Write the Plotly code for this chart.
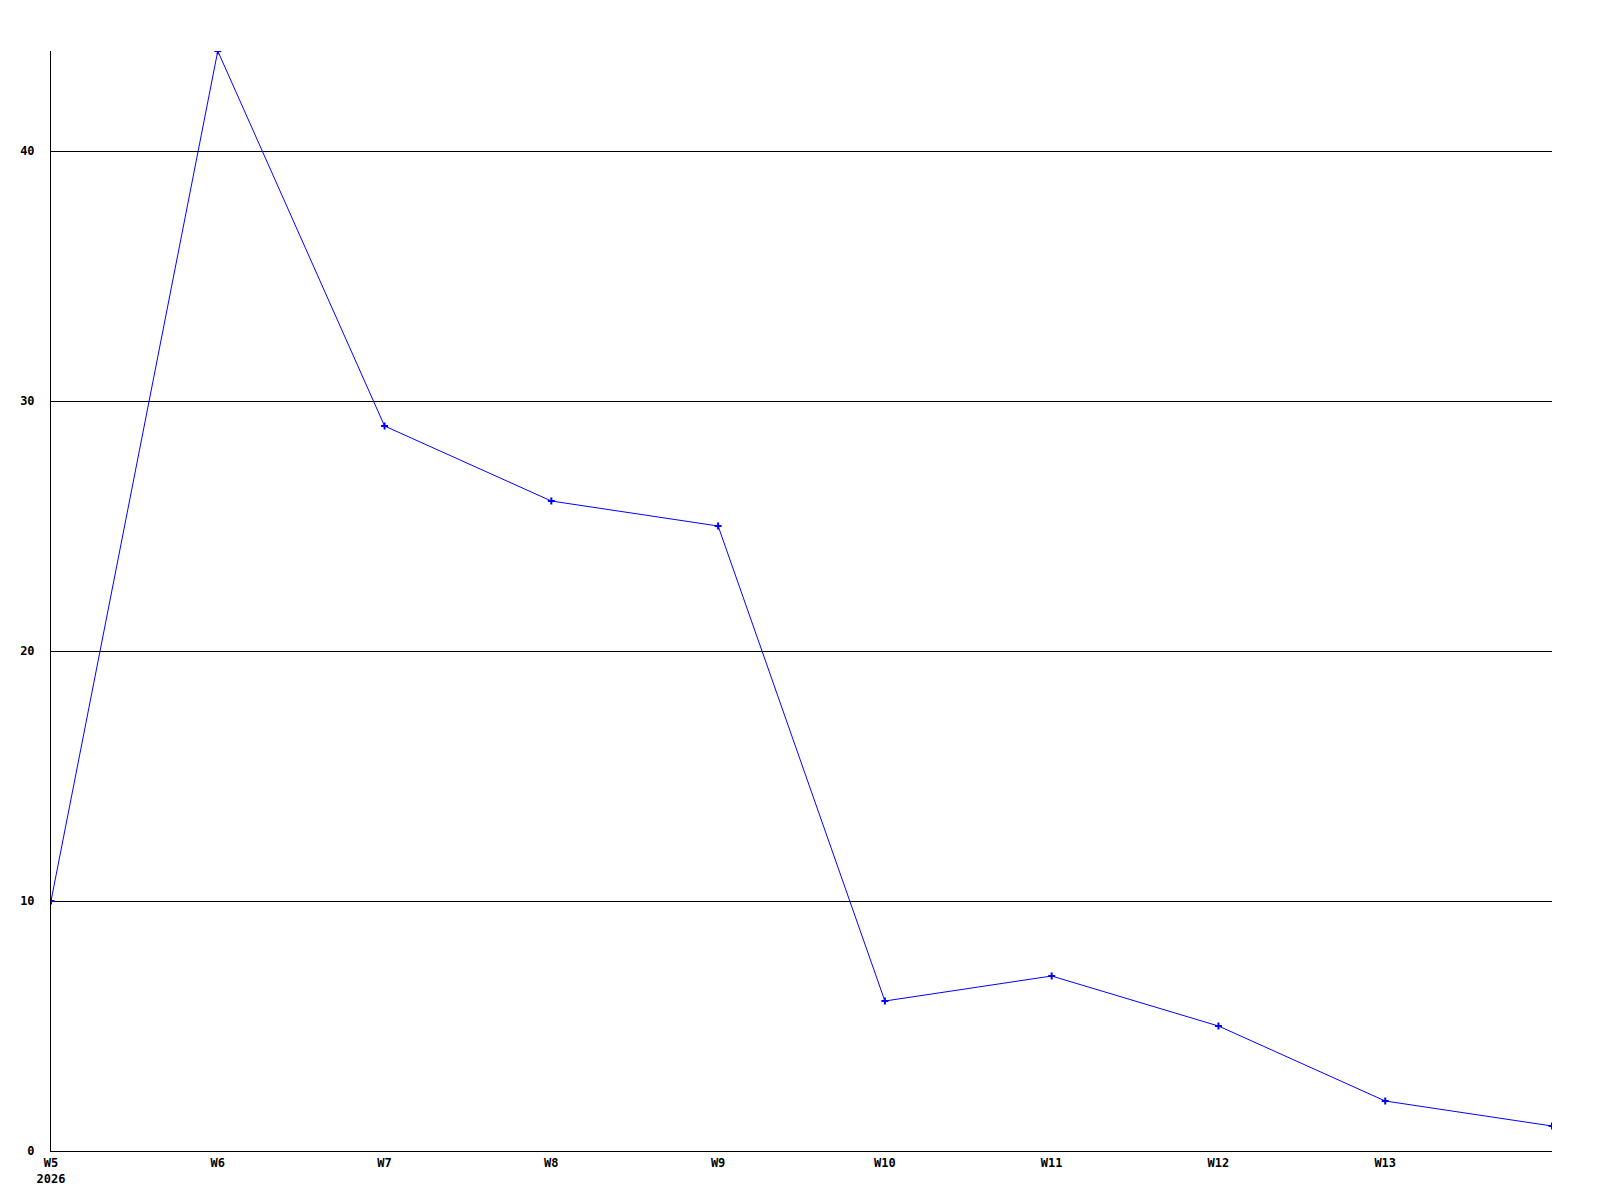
import plotly.graph_objects as go

weeks = ["W5", "W6", "W7", "W8", "W9", "W10", "W11", "W12", "W13", "W14"]
counts = [10, 44, 29, 26, 25, 6, 7, 5, 2, 1]
tick_weeks = weeks[:9]
tick_text = ["W5<br>2026", "W6", "W7", "W8", "W9", "W10", "W11", "W12", "W13"]
y_ticks = [0, 10, 20, 30, 40]

font = dict(family="DejaVu Sans Mono", size=12, color="black", weight="bold")

fig = go.Figure()
fig.add_trace(go.Scatter(
    x=weeks, y=counts, mode="lines+markers",
    line=dict(color="#0000ff", width=1),
    marker=dict(color="#0000ff", size=5, symbol="cross-thin",
                line=dict(color="#0000ff", width=2)),
    showlegend=False,
))

fig.update_xaxes(
    type="category", range=[0, 9],
    tickvals=tick_weeks, ticktext=tick_text,
    showgrid=False, zeroline=False,
    showline=True, linecolor="black", linewidth=1,
    ticks="", ticklabelstandoff=1, tickfont=font, automargin=False,
)
fig.update_yaxes(
    range=[0, 44], tickvals=y_ticks,
    showgrid=True, gridcolor="black", gridwidth=1,
    zeroline=False, showline=True, linecolor="black", linewidth=1,
    ticks="", ticklabelstandoff=13, tickfont=font, automargin=False,
)

# page body has an 8px margin, so shift the plot area back by that much
fig.update_layout(
    width=1600, height=1200,
    paper_bgcolor="white", plot_bgcolor="white",
    margin=dict(l=43, r=56, t=43, b=57),
    font=font,
)

fig.write_html("out.html")
